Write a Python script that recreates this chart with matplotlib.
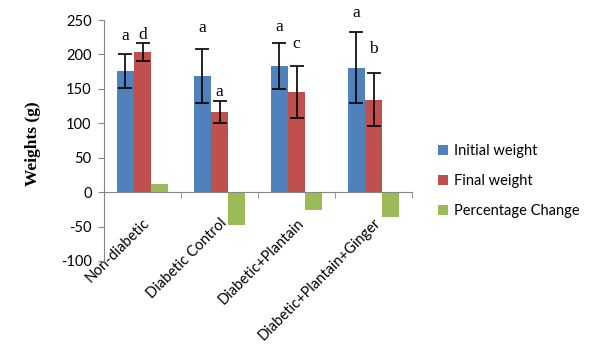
import matplotlib
matplotlib.use("Agg")
import matplotlib.pyplot as plt
import numpy as np

categories = ["Non-diabetic", "Diabetic Control", "Diabetic+Plantain", "Diabetic+Plantain+Ginger"]
initial_weight = [176, 169, 183, 181]
initial_err = [25, 39, 33, 51.5]
final_weight = [203, 116.5, 145.5, 134.5]
final_err = [13, 15.5, 37.5, 38]
pct_change = [12, -47.5, -25.7, -36.8]
initial_letters = ["a", "a", "a", "a"]
final_letters = ["d", "a", "c", "b"]
initial_letter_gap = [7, 9, 6, 8]   # points above error cap
final_letter_gap = [0, 1, 10, 12]

yticks = [-100, -50, 0, 50, 100, 150, 200, 250]

plt.rcParams['font.family'] = ['Lato', 'DejaVu Sans']
plt.rcParams['axes.unicode_minus'] = False

fig = plt.figure(figsize=(6.0, 3.61), dpi=100)
ax = fig.add_axes([104/600, 1-261/361, (412-104)/600, (261-20)/361])

x = np.arange(len(categories))
w = 0.225
blue, red, green = "#4F81BD", "#C0504D", "#9BBB59"
ekw = dict(ecolor="black", elinewidth=1.2, capsize=5, capthick=1.2)
ax.bar(x - w, initial_weight, w, color=blue, yerr=initial_err, error_kw=ekw, label="Initial weight")
ax.bar(x, final_weight, w, color=red, yerr=final_err, error_kw=ekw, label="Final weight")
ax.bar(x + w, pct_change, w, color=green, label="Percentage Change")

for i in range(len(categories)):
    ax.annotate(initial_letters[i], (x[i] - w, initial_weight[i] + initial_err[i]),
                xytext=(0, initial_letter_gap[i]), textcoords="offset points",
                ha="center", va="bottom", fontsize=12.5, family="Liberation Serif")
    ax.annotate(final_letters[i], (x[i], final_weight[i] + final_err[i]),
                xytext=(0, final_letter_gap[i]), textcoords="offset points",
                ha="center", va="bottom", fontsize=12.5, family="Liberation Serif")

ax.set_xlim(-0.5, len(categories) - 0.5)
ax.set_ylim(-100, 250)
ax.set_yticks(yticks)
ax.tick_params(axis="y", labelsize=10.5, length=4, color="#868686", direction="out", pad=5)

for s in ["top", "right"]:
    ax.spines[s].set_visible(False)
ax.spines["left"].set_color("#868686")
ax.spines["bottom"].set_color("#868686")
ax.spines["bottom"].set_position(("data", 0))

ax.set_xticks(x)
ax.set_xticklabels(categories, rotation=45, ha="right", va="top", rotation_mode="anchor", fontsize=10.5)
ax.tick_params(axis="x", which="major", length=0, pad=17)
ax.set_xticks(np.arange(len(categories) + 1) - 0.5, minor=True)
ax.tick_params(axis="x", which="minor", length=4, color="#868686", direction="out")

fig.text(33/600, 1-144/361, "Weights (g)", rotation=90, ha="center", va="center",
         fontsize=12.5, fontweight="bold", family="Liberation Serif")

ax.legend(loc="center left", bbox_to_anchor=(425/600, 1-181/361), bbox_transform=fig.transFigure,
          frameon=False, fontsize=10.5, handlelength=0.7, handleheight=0.7, labelspacing=1.1,
          handletextpad=0.4)

fig.savefig("out.png", dpi=100)
